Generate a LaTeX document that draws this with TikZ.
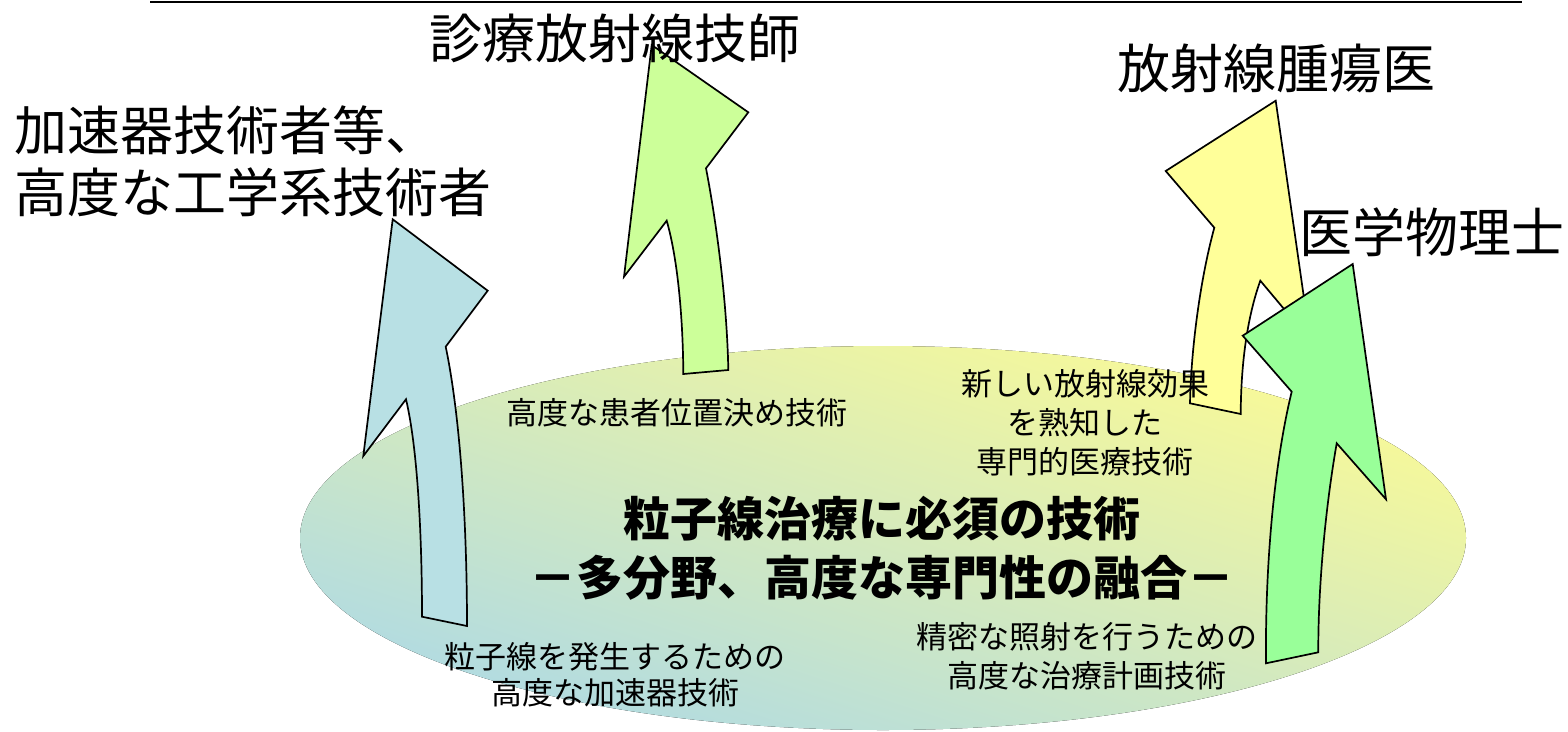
\documentclass[tikz,border=0pt]{standalone}
\usepackage{fontspec}
\newfontfamily\jp{Noto Sans CJK JP}
\definecolor{ellTop}{RGB}{250,250,150}
\definecolor{ellMid}{RGB}{218,236,190}
\definecolor{ellBot}{RGB}{175,218,228}
\definecolor{arrBlue}{RGB}{184,224,228}
\definecolor{arrLime}{RGB}{204,255,153}
\definecolor{arrYellow}{RGB}{255,255,153}
\definecolor{arrGreen}{RGB}{153,255,153}
\tikzset{
  arr/.style={draw=black, line width=1.7pt, line join=miter},
  bigtext/.style={font=\jp\fontsize{53}{62}\selectfont, inner sep=0pt},
  midtext/.style={font=\jp\fontsize{31}{39}\selectfont, align=center, inner sep=0pt},
  titletext/.style={font=\jp\bfseries\fontsize{47}{59}\selectfont, align=center, inner sep=0pt}
}
\begin{document}
\begin{tikzpicture}[x=1pt,y=-1pt]
\useasboundingbox (0,0) rectangle (1568,731);
% top rule
\coordinate (ruleL) at (150,1.5);
\coordinate (ruleR) at (1522,1.5);
\draw[line width=2pt] (ruleL) -- (ruleR);
% base ellipse
\fill[top color=ellTop, middle color=ellMid, bottom color=ellBot, shading angle=-18]
  (883,538) ellipse [x radius=583, y radius=192];
% blue arrow (left)
\filldraw[arr, fill=arrBlue] (392.7,219.3) -- (487.7,290.7) -- (445.7,346.7)
  .. controls (461,420) and (467,530) .. (467,626) -- (422,616.7)
  .. controls (422,540) and (418,450) .. (406,399.3) -- (363.3,456) -- cycle;
% lime arrow
\filldraw[arr, fill=arrLime] (651.7,45) -- (748.3,112.3) -- (706,168.3)
  .. controls (716,220) and (727,300) .. (728.3,370) -- (683.3,374)
  .. controls (683,320) and (678,260) .. (666.7,220.7) -- (624,276.7) -- cycle;
% yellow arrow
\filldraw[arr, fill=arrYellow] (1275.7,100.7) -- (1310,340) -- (1260.3,280.7)
  .. controls (1248,315) and (1241,360) .. (1240.7,414) -- (1190,403.3)
  .. controls (1191,350) and (1200,280) .. (1214.3,227.7) -- (1165.7,171) -- cycle;
% green arrow
\filldraw[arr, fill=arrGreen] (1352.7,264) -- (1386,499.3) -- (1336.7,443.3)
  .. controls (1325,510) and (1318,590) .. (1318.3,652.3) -- (1266,663.3)
  .. controls (1265,560) and (1275,460) .. (1291.7,391.7) -- (1242.7,335.7) -- cycle;
% labels
\node[bigtext] (rt) at (615,38) {診療放射線技師};
\node[bigtext, align=left, anchor=west] (ae) at (14,161) {加速器技術者等、\\高度な工学系技術者};
\node[bigtext] (ro) at (1276,68) {放射線腫瘍医};
\node[bigtext] (mp) at (1432,232) {医学物理士};
\node[midtext] (pos) at (677,413) {高度な患者位置決め技術};
\node[midtext] (rad) at (1085,423) {新しい放射線効果\\を熟知した\\専門的医療技術};
\node[midtext, font=\jp\fontsize{31}{36}\selectfont] (acc) at (615,675) {粒子線を発生するための\\高度な加速器技術};
\node[midtext] (plan) at (1087,656) {精密な照射を行うための\\高度な治療計画技術};
\node[titletext] (core) at (882,548) {粒子線治療に必須の技術\\－多分野、高度な専門性の融合－};
\end{tikzpicture}
\end{document}
